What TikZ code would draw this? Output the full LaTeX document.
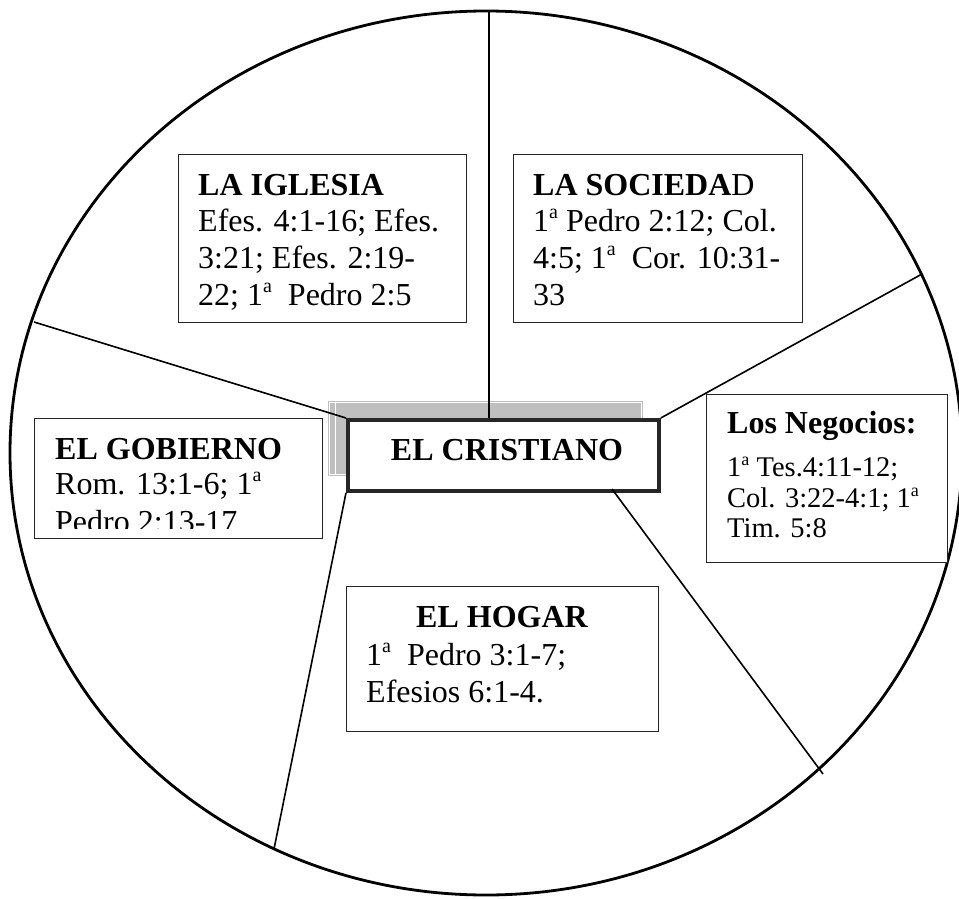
\documentclass[tikz,border=0pt]{standalone}
\usepackage{fontspec}
\setmainfont{Liberation Serif}
\newcommand\ordA{\raisebox{12.5pt}{\fontsize{20}{20}\selectfont a}}
\newcommand\ordB{\raisebox{11pt}{\fontsize{18}{18}\selectfont a}}
\begin{document}
\begin{tikzpicture}[x=1pt,y=-1pt,
  box/.style={draw=black!85, line width=1.4pt, fill=white, inner sep=0pt, anchor=north west},
  hd/.style={font=\fontsize{32}{36}\selectfont\bfseries, inner sep=0pt, anchor=base west},
  tx/.style={font=\fontsize{32}{36}\selectfont, inner sep=0pt, anchor=base west},
  txs/.style={font=\fontsize{28.5}{32}\selectfont, inner sep=0pt, anchor=base west},
  spoke/.style={line width=1.6pt, black}]
\clip (0,0) rectangle (959,899);
\fill[white] (0,0) rectangle (959,899);
% outer circle
\draw[line width=2.8pt] (486,453) ellipse [x radius=476pt, y radius=442pt];
% rim points
\coordinate (p1) at (489,11);
\coordinate (p2) at (34,322);
\coordinate (p3) at (922,274);
\coordinate (p4) at (823,774);
\coordinate (p5) at (274,849);
% shadow of centre box
\fill[gray!50] (328,401) rectangle (643,476);
\draw[white, line width=0.7pt] (329.5,402.5) rectangle (641.5,474.5);
\draw[white, line width=0.7pt] (335,403) -- (335,474);
% centre box
\node[box, line width=3.8pt, minimum width=311pt, minimum height=71pt] (cristiano) at (346,418) {};
\coordinate (c4) at (612,489);
% spokes
\draw[spoke] (p1) -- (p1 |- cristiano.north);
\draw[spoke] (p2) -- (cristiano.north west);
\draw[spoke] (p3) -- (cristiano.north east);
\draw[spoke] (p4) -- (c4);
\draw[spoke] (p5) -- (cristiano.south west);
\node[hd, anchor=base] (crt) at (507,460) {EL CRISTIANO};
% boxes
\node[box, minimum width=288pt, minimum height=168pt] (iglesia) at (178,154) {};
\node[box, minimum width=289pt, minimum height=168pt] (sociedad) at (513,154) {};
\node[box, minimum width=241pt, minimum height=168pt] (negocios) at (706,394) {};
\node[box, minimum width=288pt, minimum height=120pt] (gobierno) at (34,418) {};
\node[box, minimum width=312pt, minimum height=145pt] (hogar) at (346,586) {};
% LA IGLESIA
\node[hd] (ig0) at (198,195) {LA IGLESIA};
\node[tx] (ig1) at (198,231) {Efes. 4:1-16; Efes.};
\node[tx] (ig2) at (198,268) {3:21; Efes. 2:19-};
\node[tx] (ig3) at (198,305) {22; 1\ordA\ \ Pedro 2:5};
% LA SOCIEDAD
\node[hd] (so0) at (533,195) {LA SOCIEDA\textmd{D}};
\node[tx] (so1) at (533,231) {1\ordA{} Pedro 2:12; Col.};
\node[tx] (so2) at (533,268) {4:5; 1\ordA\ \ Cor. 10:31-};
\node[tx] (so3) at (533,305) {33};
% Los Negocios
\node[hd] (ne0) at (727,433) {Los Negocios:};
\node[txs] (ne1) at (727,476) {1\ordB{} Tes.4:11-12;};
\node[txs] (ne2) at (727,507) {Col. 3:22-4:1; 1\ordB};
\node[txs] (ne3) at (727,537) {Tim. 5:8};
% EL GOBIERNO
\node[hd] (go0) at (55,459) {EL GOBIERNO};
\node[tx] (go1) at (55,494) {Rom. 13:1-6; 1\ordA};
\begin{scope}
\clip (35,419) rectangle (321,528);
\node[tx] (go2) at (55,532) {Pedro 2:13-17};
\end{scope}
% EL HOGAR
\node[hd, anchor=base] (ho0) at (502,627) {EL HOGAR};
\node[tx] (ho1) at (366,665) {1\ordA\ \ Pedro 3:1-7;};
\node[tx] (ho2) at (366,702) {Efesios 6:1-4.};
\end{tikzpicture}
\end{document}
